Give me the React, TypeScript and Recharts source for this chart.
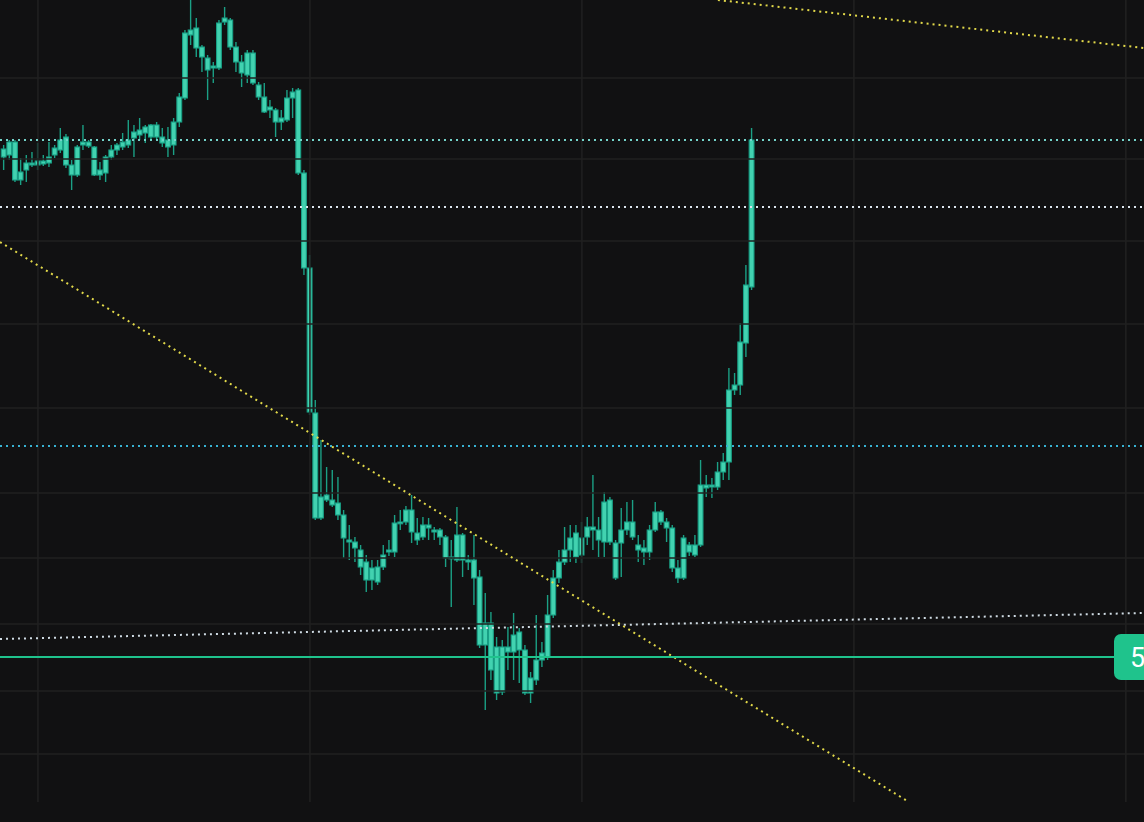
import { ComposedChart, Bar, XAxis, YAxis, ReferenceLine } from 'recharts';

// 30-minute candles
const openPrices = [
  5645, 5647, 5660, 5622, 5632, 5639, 5637, 5641, 5639, 5647, 5652, 5665, 5637, 5627, 5657, 5660, 5655, 5627, 5629, 5645,
  5652, 5655, 5657, 5664, 5667, 5669, 5677, 5665, 5665, 5662, 5657, 5680, 5704, 5767, 5774, 5755, 5744, 5734, 5734, 5780,
  5782, 5755, 5740, 5727, 5749, 5717, 5705, 5692, 5692, 5680, 5682, 5704, 5712, 5629, 5534, 5389, 5284, 5307, 5302, 5299,
  5287, 5262, 5260, 5252, 5240, 5222, 5235, 5235, 5250, 5250, 5279, 5280, 5292, 5269, 5265, 5277, 5272, 5272, 5265, 5244,
  5242, 5267, 5242, 5242, 5225, 5157, 5179, 5155, 5110, 5155, 5150, 5170, 5152, 5109, 5122, 5142, 5145, 5187, 5224, 5240,
  5252, 5269, 5247, 5265, 5275, 5272, 5260, 5302, 5259, 5259, 5272, 5280, 5257, 5254, 5250, 5272, 5290, 5280, 5274, 5234,
  5224, 5257, 5247, 5257, 5317, 5315, 5315, 5330, 5340, 5412, 5417, 5459, 5515,
];
const highPrices = [
  5657, 5662, 5662, 5644, 5647, 5650, 5659, 5647, 5660, 5657, 5674, 5668, 5642, 5657, 5677, 5662, 5656, 5640, 5647, 5657,
  5659, 5669, 5682, 5677, 5684, 5677, 5678, 5680, 5674, 5675, 5684, 5709, 5772, 5807, 5784, 5757, 5747, 5740, 5782, 5795,
  5784, 5760, 5747, 5752, 5752, 5720, 5719, 5702, 5694, 5692, 5712, 5714, 5714, 5632, 5547, 5402, 5362, 5335, 5332, 5325,
  5292, 5277, 5265, 5257, 5247, 5242, 5242, 5257, 5262, 5287, 5292, 5296, 5307, 5284, 5285, 5284, 5275, 5274, 5267, 5262,
  5295, 5269, 5247, 5267, 5232, 5209, 5190, 5165, 5162, 5175, 5189, 5174, 5157, 5130, 5187, 5160, 5207, 5232, 5252, 5275,
  5277, 5277, 5280, 5285, 5327, 5285, 5310, 5305, 5262, 5294, 5300, 5302, 5267, 5262, 5277, 5300, 5292, 5284, 5277, 5242,
  5267, 5260, 5267, 5342, 5327, 5324, 5340, 5349, 5434, 5429, 5479, 5537, 5674,
];
const lowPrices = [
  5632, 5642, 5620, 5617, 5620, 5635, 5632, 5636, 5635, 5644, 5649, 5634, 5612, 5625, 5652, 5654, 5626, 5622, 5620, 5642,
  5647, 5652, 5654, 5645, 5662, 5659, 5662, 5662, 5655, 5645, 5647, 5675, 5702, 5757, 5745, 5730, 5702, 5719, 5732, 5777,
  5752, 5730, 5715, 5719, 5717, 5702, 5689, 5684, 5665, 5672, 5680, 5684, 5627, 5527, 5387, 5282, 5282, 5300, 5295, 5282,
  5244, 5242, 5240, 5227, 5210, 5212, 5217, 5232, 5246, 5245, 5272, 5277, 5259, 5257, 5262, 5262, 5262, 5257, 5235, 5195,
  5240, 5225, 5232, 5197, 5154, 5092, 5122, 5102, 5107, 5132, 5122, 5119, 5107, 5099, 5117, 5135, 5142, 5184, 5219, 5237,
  5240, 5239, 5239, 5257, 5252, 5245, 5245, 5257, 5222, 5225, 5267, 5262, 5240, 5237, 5242, 5270, 5277, 5260, 5230, 5219,
  5222, 5246, 5245, 5255, 5305, 5304, 5312, 5322, 5322, 5407, 5407, 5445, 5512,
];
const closePrices = [
  5653, 5660, 5622, 5630, 5639, 5637, 5641, 5638, 5645, 5654, 5662, 5637, 5627, 5655, 5660, 5656, 5627, 5632, 5645, 5652,
  5657, 5660, 5662, 5670, 5672, 5675, 5665, 5677, 5659, 5655, 5680, 5705, 5769, 5772, 5754, 5745, 5732, 5736, 5779, 5784,
  5755, 5740, 5729, 5749, 5719, 5705, 5690, 5695, 5680, 5684, 5704, 5710, 5629, 5534, 5390, 5284, 5305, 5302, 5297, 5287,
  5264, 5260, 5254, 5235, 5222, 5234, 5220, 5247, 5252, 5279, 5280, 5292, 5270, 5262, 5277, 5274, 5270, 5265, 5244, 5245,
  5267, 5242, 5240, 5224, 5157, 5179, 5132, 5109, 5155, 5150, 5167, 5152, 5109, 5124, 5142, 5149, 5187, 5224, 5240, 5252,
  5264, 5245, 5264, 5275, 5272, 5262, 5300, 5260, 5224, 5272, 5280, 5265, 5252, 5250, 5272, 5290, 5280, 5274, 5234, 5224,
  5264, 5250, 5257, 5317, 5314, 5317, 5330, 5340, 5412, 5417, 5460, 5517, 5662,
];

// day separators (candle index) and price grid
const dayTicks = [6, 54, 102, 150, 198];
const priceTicks = [5724, 5643, 5561, 5478, 5394, 5309, 5244, 5178, 5111, 5048];

// drawn levels
const resistanceLevel = 5662;
const midLevel = 5595;
const supportLevel = 5356;
const lastPrice = 5145;

// trend lines: [candle index, price]
const downTrendLong = [[-0.7, 5560], [159.7, 5000]];
const downTrendTop = [[126, 5802], [201.2, 5754]];
const upTrendBase = [[-0.7, 5163], [201.2, 5189]];

const data = openPrices.map((open, i) => ({
  t: i,
  open,
  high: highPrices[i],
  low: lowPrices[i],
  close: closePrices[i],
  range: [lowPrices[i], highPrices[i]],
}));

const BG = '#111112';
const GRID = '#212121';
const BODY = '#42d2b0';
const EDGE = '#18a086';
const WICK = '#1ba085';
const GREEN = '#1fc38c';

const Candle = (props: any) => {
  const { x, y, width, height, payload } = props;
  if (!payload || height == null) return null;
  const { open, close, high, low } = payload;
  const top = Math.min(y, y + height);
  const h = Math.abs(height);
  const per = h / (high - low || 1);
  const yOf = (v: number) => top + (high - v) * per;
  const cx = x + width / 2;
  const bTop = yOf(Math.max(open, close));
  const bBot = yOf(Math.min(open, close));
  return (
    <g>
      <line x1={cx} x2={cx} y1={top} y2={top + h} stroke={WICK} strokeWidth={1.4} />
      <rect
        x={cx - 2.4}
        y={bTop}
        width={4.8}
        height={Math.max(bBot - bTop, 1.8)}
        fill={BODY}
        stroke={EDGE}
        strokeWidth={1.1}
      />
    </g>
  );
};

const PriceTag = (props: any) => {
  const vb = props.viewBox;
  if (!vb) return null;
  const right = vb.x + vb.width;
  return (
    <g>
      <rect x={right - 30} y={vb.y - 23} width={70} height={46} rx={7} fill={GREEN} />
      <text x={right - 14} y={vb.y + 10} fill="#ffffff" fontSize={27} fontFamily="Roboto, sans-serif">
        {lastPrice}
      </text>
    </g>
  );
};

const seg = (pts: number[][]) => pts.map(([x, y]) => ({ x, y }));

export default function App() {
  return (
    <div
      style={{
        position: 'absolute',
        left: 0,
        top: 0,
        width: 1144,
        height: 822,
        background: BG,
        overflow: 'hidden',
      }}
    >
      <ComposedChart width={1144} height={822} data={data} margin={{ top: 0, right: 0, bottom: 20, left: 0 }}>
        <XAxis dataKey="t" type="number" domain={[-0.7, 201.2]} allowDataOverflow hide />
        <YAxis type="number" domain={[5000, 5802]} allowDataOverflow hide />

        {dayTicks.map((d) => (
          <ReferenceLine key={'v' + d} x={d} stroke={GRID} strokeWidth={1.5} />
        ))}
        {priceTicks.map((p) => (
          <ReferenceLine key={'h' + p} y={p} stroke={GRID} strokeWidth={1.5} />
        ))}

        <ReferenceLine y={resistanceLevel} stroke="#74d3ca" strokeWidth={2} strokeDasharray="2 4" />
        <ReferenceLine y={midLevel} stroke="#dce6ee" strokeWidth={2} strokeDasharray="2 4" />
        <ReferenceLine y={supportLevel} stroke="#38b2d2" strokeWidth={2} strokeDasharray="2 4" />
        <ReferenceLine segment={seg(upTrendBase)} stroke="#cfdbe3" strokeWidth={2} strokeDasharray="2 4" ifOverflow="hidden" />

        <Bar dataKey="range" shape={<Candle />} barSize={5} isAnimationActive={false} />

        <ReferenceLine segment={seg(downTrendLong)} stroke="#e2d94a" strokeWidth={2} strokeDasharray="2 4" ifOverflow="hidden" />
        <ReferenceLine segment={seg(downTrendTop)} stroke="#e2d94a" strokeWidth={2} strokeDasharray="2 4" ifOverflow="hidden" />
        <ReferenceLine y={lastPrice} stroke={GREEN} strokeWidth={2} label={PriceTag} />
      </ComposedChart>
    </div>
  );
}
